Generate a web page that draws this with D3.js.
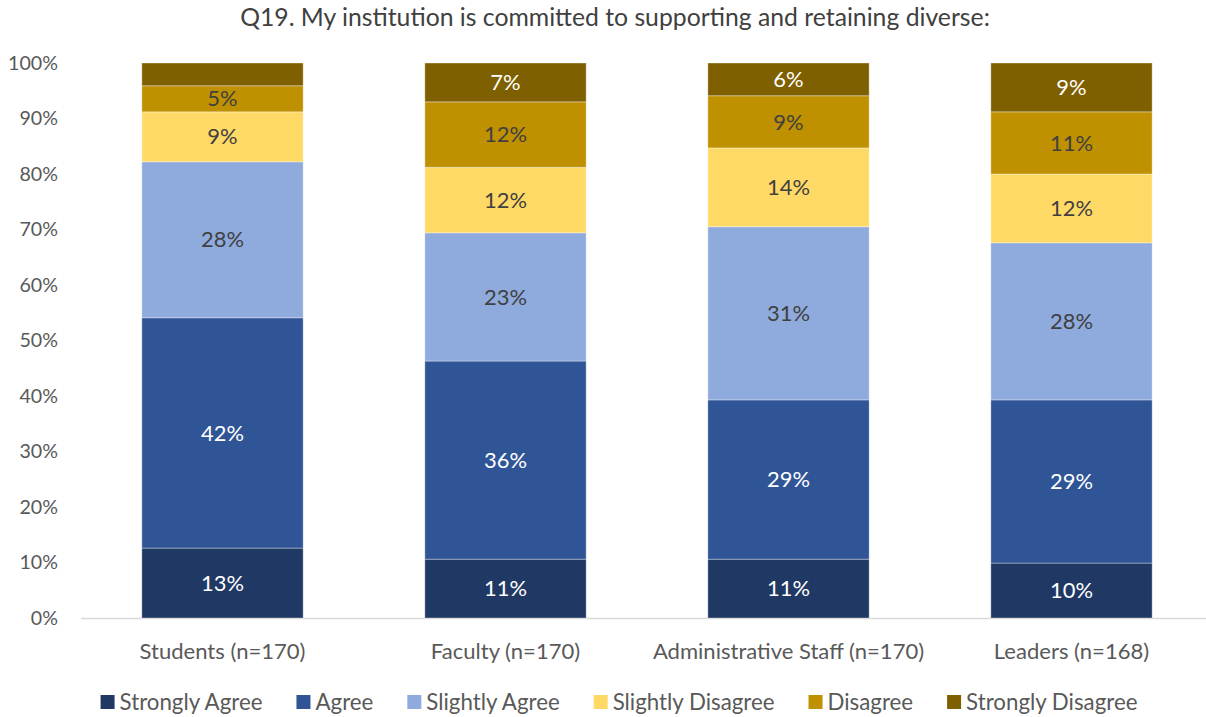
<!DOCTYPE html>
<html><head><meta charset="utf-8">
<script src="https://cdn.jsdelivr.net/npm/d3@7"></script>
<style>body{margin:0;background:#fff;} text{font-family:Lato,"Noto Sans",sans-serif;}</style>
</head><body><svg id="c" width="1206" height="717"></svg>
<script>
const title = "Q19. My institution is committed to supporting and retaining diverse:";
const categories = ["Students (n=170)", "Faculty (n=170)", "Administrative Staff (n=170)", "Leaders (n=168)"];
const seriesNames = ["Strongly Agree", "Agree", "Slightly Agree", "Slightly Disagree", "Disagree", "Strongly Disagree"];
const stronglyAgree = [12.6, 10.6, 10.6, 9.9];
const agree = [41.5, 35.7, 28.7, 29.4];
const slightlyAgree = [28.1, 23.1, 31.2, 28.3];
const slightlyDisagree = [9.0, 11.8, 14.2, 12.4];
const disagree = [4.7, 11.8, 9.4, 11.2];
const stronglyDisagree = [4.1, 7.0, 5.9, 8.8];
const showLabel = [[true,true,true,true],[true,true,true,true],[true,true,true,true],[true,true,true,true],[true,true,true,true],[false,true,true,true]];
const yTicks = [0,10,20,30,40,50,60,70,80,90,100];
const colors = ["#203864","#2F5597","#8FAADC","#FFD966","#BF9000","#7F6000"];
const labelColors = ["#ffffff","#ffffff","#404040","#404040","#404040","#ffffff"];

const seriesVals = [stronglyAgree, agree, slightlyAgree, slightlyDisagree, disagree, stronglyDisagree];
const rows = categories.map((c,i)=>{const r={cat:c}; seriesNames.forEach((s,j)=>r[s]=seriesVals[j][i]); return r;});
const stacked = d3.stack().keys(seriesNames)(rows);

const svg = d3.select("#c");
// fit font size so that a sample string has a target width
function fit(str, target){
  const t = svg.append("text").attr("font-size",20).text(str);
  const w = t.node().getComputedTextLength(); t.remove();
  return 20*target/w;
}
const fsTitle = fit(title, 750);
const fsCat = fit("Students (n=170)", 166);
const fsLeg = fit("Strongly Agree", 143);
const fsTick = fit("100%", 50);
const fsLab = fit("42%", 43);

const x = d3.scaleBand().domain(categories).range([81,1213]).paddingInner(0.43).paddingOuter(0.215);
const y = d3.scaleLinear().domain([0,100]).range([618,63]);

svg.append("text").attr("x",615).attr("y",26).attr("text-anchor","middle")
  .attr("font-size",fsTitle).attr("fill","#404040").text(title);

svg.append("g").selectAll("text").data(yTicks).join("text")
  .attr("x",58).attr("y",d=>y(d)).attr("dy","0.35em").attr("text-anchor","end")
  .attr("font-size",fsTick).attr("fill","#595959").text(d=>d+"%");

svg.append("line").attr("x1",81).attr("x2",1213).attr("y1",y(0)+0.5).attr("y2",y(0)+0.5)
  .attr("stroke","#d9d9d9").attr("stroke-width",1.5);

const g = svg.append("g");
stacked.forEach((layer,j)=>{
  g.append("g").selectAll("rect").data(layer).join("rect")
    .attr("x",d=>x(d.data.cat)).attr("width",x.bandwidth())
    .attr("y",d=>y(d[1])).attr("height",d=>y(d[0])-y(d[1]))
    .attr("fill",colors[j]).attr("stroke","#ffffff").attr("stroke-opacity",0.35).attr("stroke-width",1);
});
stacked.forEach((layer,j)=>{
  g.append("g").selectAll("text").data(layer.filter((d,i)=>showLabel[j][i])).join("text")
    .attr("x",d=>x(d.data.cat)+x.bandwidth()/2).attr("y",d=>(y(d[0])+y(d[1]))/2).attr("dy","0.35em")
    .attr("text-anchor","middle").attr("font-size",fsLab).attr("fill",labelColors[j])
    .text(d=>Math.round(d[1]-d[0])+"%");
});

svg.append("g").selectAll("text").data(categories).join("text")
  .attr("x",d=>x(d)+x.bandwidth()/2).attr("y",651).attr("dy","0.35em").attr("text-anchor","middle")
  .attr("font-size",fsCat).attr("fill","#595959").text(d=>d);

const lg = svg.append("g");
let lx = 0;
seriesNames.forEach((s,j)=>{
  const it = lg.append("g");
  it.append("rect").attr("x",0).attr("y",-7).attr("width",14).attr("height",14).attr("fill",colors[j]);
  const t = it.append("text").attr("x",19).attr("y",0).attr("dy","0.35em").attr("font-size",fsLeg).attr("fill","#595959").text(s);
  const w = 19 + t.node().getComputedTextLength();
  it.attr("transform",`translate(${lx},0)`);
  lx += w + 34;
});
const totalW = lx - 34;
lg.attr("transform",`translate(${(104+1134)/2 - totalW/2},702)`);
</script></body></html>
